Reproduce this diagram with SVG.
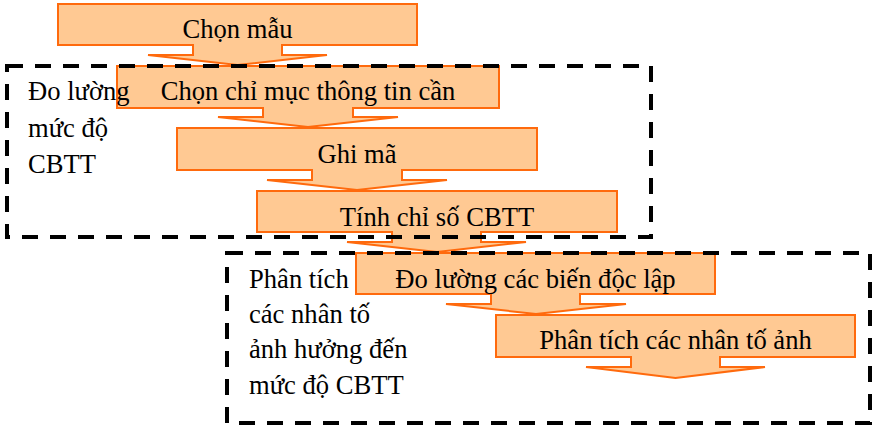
<svg xmlns="http://www.w3.org/2000/svg" width="876" height="427" viewBox="0 0 876 427">
<style>
.step{fill:#FFC993;stroke:#FF6A0D;stroke-width:2;stroke-linejoin:miter}
.box{fill:none;stroke:#000;stroke-width:4;stroke-dasharray:16 12}
text{font-family:"Liberation Serif","Times New Roman",serif;font-size:26.6px;fill:#000}
.c{text-anchor:middle}
</style>
<rect width="876" height="427" fill="#fff"/>
<g id="connectors"></g>
<g id="n1"><path class="step" d="M58,4H417V45H282V55H327L237.5,65L148,55H193V45H58Z"/><text class="c" x="237.5" y="38">Chọn mẫu</text></g>
<g id="n2"><path class="step" d="M117,66H499V108H353V117H398L308,127L218,117H263V108H117Z"/></g>
<g id="n3"><path class="step" d="M177,128H537V170H402V180H447L357,190L267,180H312V170H177Z"/><text class="c" x="357" y="163">Ghi mã</text></g>
<g id="n4"><path class="step" d="M257,191H617V232H481V242H526L437,252L347,242H392V232H257Z"/><text class="c" x="437" y="226">Tính chỉ số CBTT</text></g>
<g id="n5"><path class="step" d="M356,253H715V294H580V304H626L536,314L446,304H491V294H356Z"/><text class="c" x="535.5" y="288">Đo lường các biến độc lập</text></g>
<g id="n6"><path class="step" d="M496,315H855V357H720V367H765L675.5,378L586,367H631V357H496Z"/><text class="c" x="675.5" y="349">Phân tích các nhân tố ảnh</text></g>
<g id="group1"><rect class="box" x="7" y="66" width="644" height="171"/>
<text x="28" y="100">Đo lường</text><text x="28" y="137">mức độ</text><text x="28" y="173">CBTT</text></g>
<g id="n2label"><text class="c" x="308" y="100">Chọn chỉ mục thông tin cần</text></g>
<g id="group2"><rect class="box" x="227" y="253" width="643" height="170"/>
<text x="249" y="288">Phân tích</text><text x="249" y="323">các nhân tố</text><text x="249" y="358">ảnh hưởng đến</text><text x="249" y="394">mức độ CBTT</text></g>
</svg>
